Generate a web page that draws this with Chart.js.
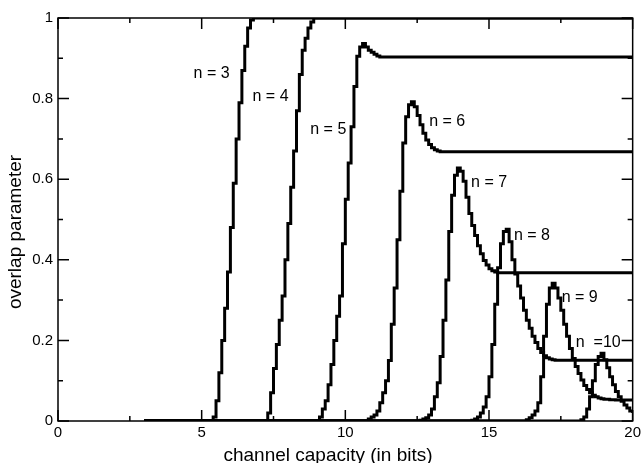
<!DOCTYPE html>
<html><head><meta charset="utf-8">
<script src="https://cdn.jsdelivr.net/npm/chart.js@4.4.0/dist/chart.umd.min.js"></script>
<style>html,body{margin:0;padding:0;background:#fff;}</style>
</head><body>
<canvas id="c" width="644" height="463"></canvas>
<script>
// ---- tick values ----
const xMajorTicks = [0, 5, 10, 15, 20];
const xMinorTicks = [2.5, 7.5, 12.5, 17.5];
const yMajorTicks = [0, 0.2, 0.4, 0.6, 0.8, 1];
const yMinorTicks = [0.1, 0.3, 0.5, 0.7, 0.9];
const yTickLabels = ['0', '0.2', '0.4', '0.6', '0.8', '1'];

// ---- series: [channel capacity, overlap parameter] ----
const curveN3 = [[3,0],[5.4,0.01],[5.5,0.05],[5.6,0.12],[5.7,0.2],[5.8,0.28],[5.9,0.37],[6.0,0.48],[6.1,0.59],[6.2,0.7],[6.3,0.79],[6.4,0.87],[6.5,0.93],[6.6,0.975],[6.7,0.995],[6.8,1],[20,1]];
const curveN4 = [[3,0],[7.3,0.02],[7.4,0.07],[7.5,0.13],[7.6,0.19],[7.7,0.25],[7.8,0.31],[7.9,0.4],[8.0,0.49],[8.1,0.58],[8.2,0.67],[8.3,0.77],[8.4,0.86],[8.5,0.92],[8.6,0.95],[8.7,0.975],[8.8,0.99],[8.9,1],[20,1]];
const curveN5 = [[3,0],[9.1,0.01],[9.2,0.03],[9.3,0.05],[9.4,0.09],[9.5,0.14],[9.6,0.2],[9.7,0.26],[9.8,0.31],[9.9,0.44],[10.0,0.55],[10.1,0.64],[10.2,0.73],[10.3,0.83],[10.4,0.905],[10.5,0.928],[10.6,0.937],[10.7,0.928],[10.8,0.92],[10.9,0.915],[11.0,0.91],[11.1,0.906],[11.2,0.903],[20,0.903]];
const curveN6 = [[3,0],[10.8,0.005],[10.9,0.01],[11.0,0.015],[11.1,0.025],[11.2,0.045],[11.3,0.07],[11.4,0.1],[11.5,0.15],[11.6,0.24],[11.7,0.33],[11.8,0.45],[11.9,0.57],[12.0,0.69],[12.1,0.755],[12.2,0.785],[12.3,0.792],[12.4,0.78],[12.5,0.758],[12.6,0.735],[12.7,0.714],[12.8,0.697],[12.9,0.686],[13.0,0.678],[13.1,0.673],[13.2,0.67],[13.3,0.668],[20,0.668]];
const curveN7 = [[3,0],[12.6,0.002],[12.7,0.005],[12.8,0.008],[12.9,0.015],[13.0,0.03],[13.1,0.06],[13.2,0.095],[13.3,0.16],[13.4,0.25],[13.5,0.35],[13.6,0.47],[13.7,0.56],[13.8,0.61],[13.9,0.628],[14.0,0.62],[14.1,0.595],[14.2,0.555],[14.3,0.515],[14.4,0.485],[14.5,0.46],[14.6,0.435],[14.7,0.415],[14.8,0.398],[14.9,0.387],[15.0,0.378],[15.1,0.373],[15.2,0.37],[15.3,0.368],[20,0.368]];
const curveN8 = [[3,0],[14.4,0.002],[14.5,0.005],[14.6,0.01],[14.7,0.02],[14.8,0.035],[14.9,0.06],[15.0,0.11],[15.1,0.19],[15.2,0.29],[15.3,0.38],[15.4,0.44],[15.5,0.47],[15.6,0.476],[15.7,0.445],[15.8,0.4],[15.9,0.365],[16.0,0.335],[16.1,0.305],[16.2,0.275],[16.3,0.25],[16.4,0.23],[16.5,0.21],[16.6,0.195],[16.7,0.18],[16.8,0.17],[16.9,0.162],[17.0,0.157],[17.1,0.154],[17.2,0.152],[17.3,0.151],[20,0.151]];
const curveN9 = [[3,0],[16.3,0.003],[16.4,0.008],[16.5,0.015],[16.6,0.025],[16.7,0.045],[16.8,0.11],[16.9,0.21],[17.0,0.29],[17.1,0.33],[17.2,0.342],[17.3,0.33],[17.4,0.305],[17.5,0.275],[17.6,0.24],[17.7,0.21],[17.8,0.18],[17.9,0.155],[18.0,0.135],[18.1,0.118],[18.2,0.102],[18.3,0.088],[18.4,0.078],[18.5,0.07],[18.6,0.064],[18.7,0.06],[18.8,0.057],[18.9,0.055],[19.0,0.054],[19.2,0.053],[19.4,0.052],[20,0.052]];
const curveN10 = [[3,0],[18.2,0.003],[18.3,0.01],[18.4,0.03],[18.5,0.06],[18.6,0.1],[18.7,0.14],[18.8,0.16],[18.9,0.168],[19.0,0.152],[19.1,0.132],[19.2,0.11],[19.3,0.09],[19.4,0.073],[19.5,0.06],[19.6,0.049],[19.7,0.04],[19.8,0.032],[19.9,0.025],[20,0.02]];

// ---- curve labels (text, anchored in data coordinates) ----
const labelTexts = ['n = 3', 'n = 4', 'n = 5', 'n = 6', 'n = 7', 'n = 8', 'n = 9', 'n  =10'];
const labelX = [4.72, 6.77, 8.78, 12.92, 14.375, 15.87, 17.53, 18.02];
const labelY = [0.861, 0.804, 0.722, 0.742, 0.591, 0.461, 0.305, 0.194];

const xTitle = 'channel capacity (in bits)';
const yTitle = 'overlap parameter';

const FONT = "'Liberation Sans', Arial, Helvetica, sans-serif";
const curves = [curveN3, curveN4, curveN5, curveN6, curveN7, curveN8, curveN9, curveN10];

const framePlugin = {
  id: 'frame',
  afterDatasetsDraw(chart) {
    const {ctx, chartArea: a, scales: {x, y}} = chart;
    ctx.save();
    ctx.strokeStyle = '#000';
    ctx.lineWidth = 1.5;
    ctx.strokeRect(a.left, a.top, a.right - a.left, a.bottom - a.top);
    const xt = (v, len) => {
      const p = x.getPixelForValue(v);
      ctx.beginPath();
      ctx.moveTo(p, a.bottom); ctx.lineTo(p, a.bottom - len);
      ctx.moveTo(p, a.top); ctx.lineTo(p, a.top + len);
      ctx.stroke();
    };
    const yt = (v, len) => {
      const p = y.getPixelForValue(v);
      ctx.beginPath();
      ctx.moveTo(a.left, p); ctx.lineTo(a.left + len, p);
      ctx.moveTo(a.right, p); ctx.lineTo(a.right - len, p);
      ctx.stroke();
    };
    xMajorTicks.forEach(v => xt(v, 11));
    xMinorTicks.forEach(v => xt(v, 5));
    yMajorTicks.forEach(v => yt(v, 11));
    yMinorTicks.forEach(v => yt(v, 5));

    ctx.fillStyle = '#000';
    ctx.font = '16px ' + FONT;
    ctx.textAlign = 'left';
    ctx.textBaseline = 'middle';
    labelTexts.forEach((t, i) => {
      ctx.fillText(t, x.getPixelForValue(labelX[i]), y.getPixelForValue(labelY[i]));
    });

    ctx.font = '19px ' + FONT;
    ctx.textAlign = 'center';
    ctx.textBaseline = 'alphabetic';
    ctx.fillText(xTitle, 328, 461);
    ctx.translate(21, 232);
    ctx.rotate(-Math.PI / 2);
    ctx.fillText(yTitle, 0, 0);
    ctx.restore();
  }
};

new Chart(document.getElementById('c'), {
  type: 'line',
  data: {
    datasets: curves.map((d, i) => ({
      label: labelTexts[i],
      data: d,
      stepped: true,
      borderColor: '#000',
      borderWidth: 3,
      pointRadius: 0,
      fill: false,
      tension: 0
    }))
  },
  options: {
    responsive: false,
    animation: false,
    devicePixelRatio: 1,
    layout: {padding: {top: 18, right: 10, left: 0, bottom: 0}},
    plugins: {legend: {display: false}, tooltip: {enabled: false}},
    scales: {
      x: {
        type: 'linear', min: 0, max: 20,
        afterFit(s) { s.height = 42; },
        afterBuildTicks(s) { s.ticks = xMajorTicks.map(v => ({value: v})); },
        grid: {display: false, drawTicks: false},
        border: {display: false},
        ticks: {color: '#000', font: {size: 15, family: FONT}, padding: 3, maxRotation: 0, autoSkip: false}
      },
      y: {
        type: 'linear', min: 0, max: 1,
        afterFit(s) { s.width = 58; },
        afterBuildTicks(s) { s.ticks = yMajorTicks.map(v => ({value: v})); },
        grid: {display: false, drawTicks: false},
        border: {display: false},
        ticks: {
          color: '#000', font: {size: 15, family: FONT}, padding: 5, autoSkip: false,
          callback: (v, i) => yTickLabels[i]
        }
      }
    }
  },
  plugins: [framePlugin]
});
</script>
</body></html>
